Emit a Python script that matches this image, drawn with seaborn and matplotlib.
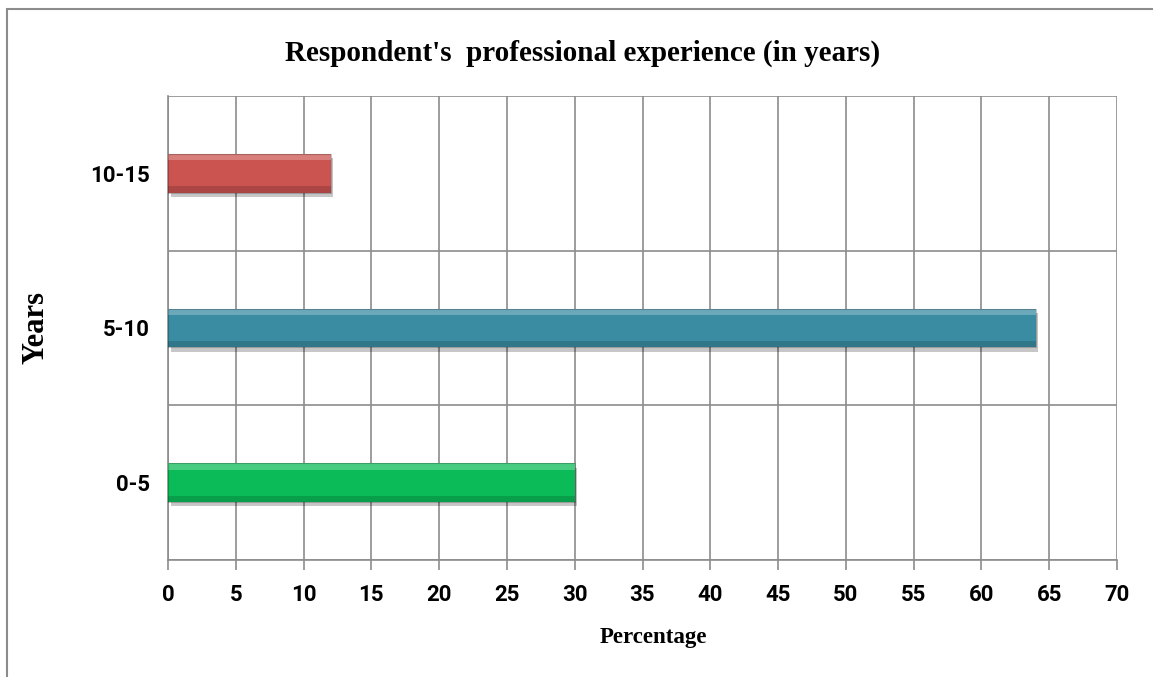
import matplotlib
matplotlib.use("Agg")
import matplotlib.pyplot as plt
import matplotlib.patheffects as pe
from matplotlib.patches import Rectangle
import seaborn as sns
import pandas as pd

categories = ["10-15", "5-10", "0-5"]
percentages = [12, 64, 30]
bar_colors = ["#CB5350", "#3A8CA3", "#0BBB57"]
x_ticks = list(range(0, 75, 5))

sns.set_theme(style="white")
plt.rcParams["text.color"] = "black"

df = pd.DataFrame({"Years": categories, "Percentage": percentages})

fig = plt.figure(figsize=(11.53, 6.77), dpi=100)
ax = fig.add_axes([168 / 1153, 1 - 560 / 677, (1117 - 168) / 1153, (560 - 96) / 677])

sns.barplot(data=df, x="Percentage", y="Years", hue="Years", palette=bar_colors,
            order=categories, hue_order=categories, legend=False, width=0.25, ax=ax,
            zorder=3, edgecolor="none", linewidth=0, saturation=1)

# bevel: drop shadow plus a lighter top strip and darker bottom strip on each bar
for patch in list(ax.patches):
    patch.set_path_effects([pe.SimplePatchShadow(offset=(2, -3), shadow_rgbFace="#000000", alpha=0.22),
                            pe.Normal()])
    x0, y0 = patch.get_x(), patch.get_y()
    w, h = patch.get_width(), patch.get_height()
    ax.add_patch(Rectangle((x0, y0), w, h * 0.16, facecolor="white", alpha=0.25,
                           edgecolor="none", zorder=4))
    ax.add_patch(Rectangle((x0, y0 + h * 0.84), w, h * 0.16, facecolor="black", alpha=0.15,
                           edgecolor="none", zorder=4))
    ax.add_patch(Rectangle((x0, y0), w, h, facecolor="none", edgecolor="black",
                           alpha=0.22, linewidth=0.8, zorder=5))

ax.set_xlim(0, 70)
ax.set_ylim(2.5, -0.5)
ax.set_xticks(x_ticks)
ax.set_xticklabels([str(t) for t in x_ticks])

# category boundary lines and vertical gridlines
for yb in [-0.5, 0.5, 1.5, 2.5]:
    ax.axhline(yb, color="#8C8C8C", linewidth=1.2, zorder=1)
for xt in x_ticks:
    ax.axvline(xt, color="#8C8C8C", linewidth=1.2, zorder=1)

for side in ["top", "right"]:
    ax.spines[side].set_visible(False)
for side in ["left", "bottom"]:
    ax.spines[side].set_color("#8C8C8C")
    ax.spines[side].set_linewidth(1.2)

ax.tick_params(axis="x", which="both", bottom=True, length=7, width=1.2, color="#8C8C8C",
               direction="out", pad=10)
ax.tick_params(axis="y", left=False, pad=7)

for lbl in ax.get_xticklabels() + ax.get_yticklabels():
    lbl.set_fontfamily("Roboto")
    lbl.set_fontweight("bold")
    lbl.set_fontsize(16)
    lbl.set_color("black")

serif = "Liberation Serif"
ax.set_xlabel("Percentage", family=serif, weight="bold", fontsize=16.5, color="black")
ax.set_ylabel("Years", family=serif, weight="bold", fontsize=22, color="black")
ax.xaxis.set_label_coords(0.511, -0.145)
ax.yaxis.set_label_coords(-0.124, 0.5)
fig.text(583 / 1153, 1 - 53 / 677, "Respondent's  professional experience (in years)",
         ha="center", va="center", family=serif, weight="bold", fontsize=21, color="black")

# outer chart frame
fig.add_artist(Rectangle((7 / 1153, -0.05), 1.1, 1 - 9 / 677 + 0.05, transform=fig.transFigure,
                         facecolor="none", edgecolor="#8C8C8C", linewidth=1.5))

fig.savefig("out.png", dpi=100)
